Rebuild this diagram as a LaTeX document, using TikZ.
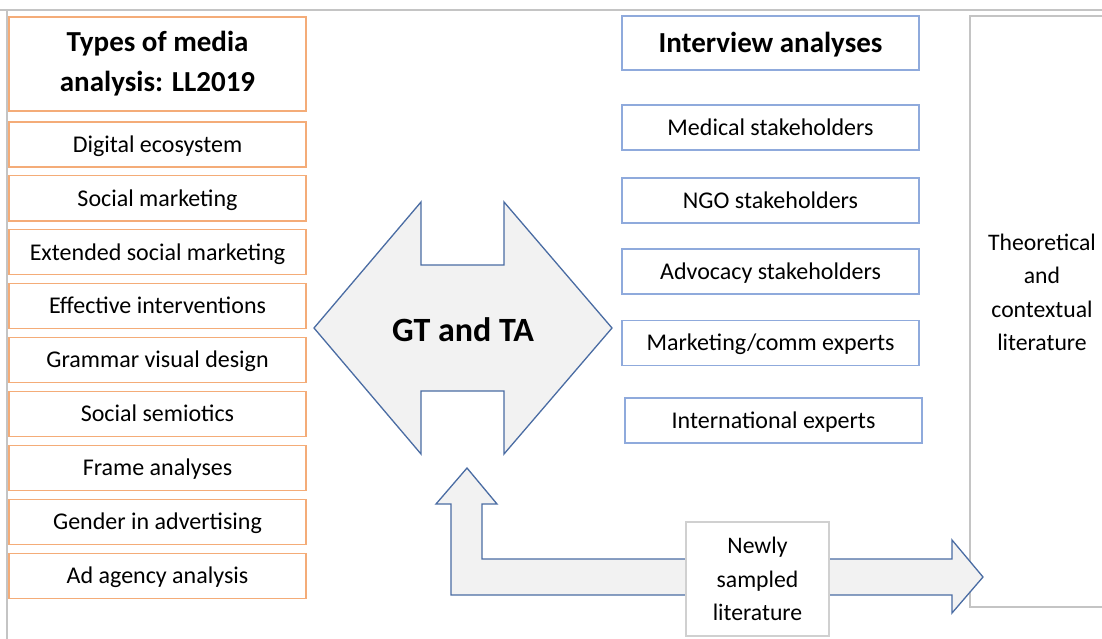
\documentclass[tikz,border=0pt]{standalone}
\usepackage{fontspec}
\setmainfont{Carlito}
\usetikzlibrary{positioning}
\definecolor{myorange}{HTML}{F4AC78}
\definecolor{myblue}{HTML}{8FAADC}
\definecolor{myarrow}{HTML}{4A6CA3}
\definecolor{myfill}{HTML}{F2F2F2}
\definecolor{mygray}{HTML}{C4C4C4}
\tikzset{
  mediabox/.style={draw=myorange, line width=1.2pt, minimum width=297pt, minimum height=45pt, inner sep=0pt,
    text height=15.4pt, text depth=0pt, font=\fontsize{24}{33.5}\selectfont},
  interbox/.style={mediabox, draw=myblue},
  headfont/.style={font=\bfseries\fontsize{29}{40}\selectfont},
  plaintext/.style={align=center, inner sep=0pt, font=\fontsize{23.7}{33.3}\selectfont},
  bigarrow/.style={draw=myarrow, fill=myfill, line width=1.3pt, line join=miter},
}

\begin{document}
\begin{tikzpicture}[x=1pt, y=-1pt]
  \useasboundingbox (0,0) rectangle (1102,639);
  \clip (0,0) rectangle (1102,639);
  \draw [mygray, line width=2pt] (0,10) -- (1102,10);
  \draw [mygray, line width=2pt] (6.5,10) -- (6.5,639);

  % media analysis column
  \node [mediabox, minimum height=94pt, text height=, text depth=, align=center, headfont] (types) at (157.5,64) {Types of media\\analysis: LL2019};
  \foreach \txt [count=\i from 0] in {Digital ecosystem, Social marketing, Extended social marketing,
      Effective interventions, Grammar visual design, Social semiotics, Frame analyses,
      Gender in advertising, Ad agency analysis}
    \node [mediabox] (media\i) at (157.5,{144.5+53.9*\i}) {\txt};

  % interview column
  \node [interbox, minimum height=54pt, text height=18.7pt, headfont] (inter) at (770.5,43) {Interview analyses};
  \node [interbox] (medical) at (770.5,127.5) {Medical stakeholders};
  \node [interbox] (ngo) at (770.5,200.5) {NGO stakeholders};
  \node [interbox] (advocacy) at (770.5,271.5) {Advocacy stakeholders};
  \node [interbox] (marketing) at (770.5,343) {Marketing/comm experts};
  \node [interbox] (intl) at (773.5,420.5) {International experts};

  % literature box
  \node [draw=mygray, line width=1.3pt, minimum width=150pt, minimum height=591pt] (theo) at (1045,311.5) {};
  \node [plaintext] (theotext) at (1042,292.5) {Theoretical\\and\\contextual\\literature};

  % GT and TA arrow
  \draw [bigarrow] (314,328) -- (421,202) -- (421,265) -- (504,265) -- (504,202) -- (612,328)
    -- (504,454) -- (504,391) -- (421,391) -- (421,454) -- cycle;
  \node [font=\bfseries\fontsize{34}{40}\selectfont, inner sep=0pt] (gt) at (463,330) {GT and TA};

  % newly sampled literature
  \draw [bigarrow] (467,468) -- (497,504) -- (482,504) -- (482,559) -- (952,559) -- (952,540)
    -- (983,577) -- (952,613) -- (952,595) -- (451,595) -- (451,504) -- (436,504) -- cycle;
  \node [draw=mygray!80, fill=white, line width=1.2pt, minimum width=143pt, minimum height=114pt,
    plaintext] (newly) at (757.5,579) {Newly\\sampled\\literature};
\end{tikzpicture}
\end{document}
